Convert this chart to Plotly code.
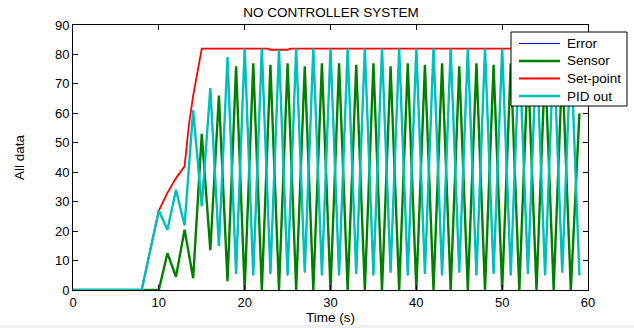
import plotly.graph_objects as go

# ---- data (1 s samples) ----
time_s = list(range(0, 60))

sensor = [0, 0, 0, 0, 0, 0, 0, 0, 0, 0,
          0, 12.5, 4.5, 20.5, 4, 53, 13.5, 66, 3, 76,
          0, 77, 0, 76.5, 0, 77, 0, 76, 0, 77,
          0, 77, 0, 76.5, 0, 77, 0, 76, 0, 77,
          0, 76.5, 0, 77, 0, 76, 0, 77, 0, 76.5,
          0, 77, 0, 76.5, 0, 77, 0, 76, 0, 60]

pid_out = [0, 0, 0, 0, 0, 0, 0, 0, 0, 13.5,
           27, 20.5, 34, 22, 61, 28.5, 68.5, 15, 79, 5.5,
           82, 5, 82, 5.5, 81.6, 5, 82, 6, 82, 5,
           82, 5, 82, 5.5, 82, 5, 82, 6, 82, 5,
           82, 5.5, 82, 5, 82, 6, 82, 5, 82, 5.5,
           82, 5, 82, 5.5, 82, 5, 82, 6, 82, 5]

error = list(pid_out)

setpoint_t = [0, 8, 9, 10, 11, 12, 13, 13.5, 14, 14.5, 15, 22.7, 23, 25, 25.3, 59]
setpoint = [0, 0, 13.5, 27, 33, 38, 42, 56, 66, 74, 82, 82, 81.6, 81.6, 82, 82]

x_ticks = [0, 10, 20, 30, 40, 50, 60]
y_ticks = [0, 10, 20, 30, 40, 50, 60, 70, 80, 90]

series_names = ["Error", "Sensor", "Set-point", "PID out"]
series_colors = ["#0000FF", "#008000", "#FF0000", "#00BFBF"]
series_widths = [1, 2.4, 1.8, 2.4]

FONT = "Liberation Sans, Arial, sans-serif"

# plot-area geometry (pixels)
L, R, T, B = 73, 46, 25, 38
W, H = 634, 328
PW, PH = W - L - R, H - T - B


def px_x(px):
    return (px - L) / PW


def px_y(py):
    return (H - B - py) / PH


fig = go.Figure()
xs = [time_s, time_s, setpoint_t, time_s]
ys = [error, sensor, setpoint, pid_out]
for name, col, wd, xv, yv in zip(series_names, series_colors, series_widths, xs, ys):
    fig.add_trace(go.Scatter(x=xv, y=yv, mode="lines", name=name,
                             line=dict(color=col, width=wd)))

axis_common = dict(showgrid=False, zeroline=False, showline=True, linecolor="black",
                   linewidth=1, mirror="ticks", ticks="inside", ticklen=5,
                   tickcolor="black", automargin=False,
                   tickfont=dict(family=FONT, size=13, color="black"))

# manual legend (box, line samples, labels)
shapes = [dict(type="rect", xref="paper", yref="paper", x0=-0.2, x1=1.2,
               y0=px_y(325), y1=px_y(330), fillcolor="#F0F0F0", line=dict(width=0),
               layer="below"),
          dict(type="rect", xref="paper", yref="paper",
               x0=px_x(511), x1=px_x(627), y0=px_y(106), y1=px_y(32),
               fillcolor="white", line=dict(color="black", width=1), layer="above")]
annotations = []
row_y = [43.5, 61, 78.5, 96]
for name, col, wd, ry in zip(series_names, series_colors, series_widths, row_y):
    shapes.append(dict(type="line", xref="paper", yref="paper",
                       x0=px_x(519), x1=px_x(560), y0=px_y(ry), y1=px_y(ry),
                       line=dict(color=col, width=wd), layer="above"))
    annotations.append(dict(text=name, xref="paper", yref="paper",
                            x=px_x(565), y=px_y(ry), xanchor="left", yanchor="middle",
                            showarrow=False,
                            font=dict(family=FONT, size=13.5, color="black")))

fig.update_layout(
    width=W, height=H,
    margin=dict(l=L, r=R, t=T, b=B),
    paper_bgcolor="white", plot_bgcolor="white",
    title=dict(text="NO CONTROLLER SYSTEM", x=0.522, xanchor="center", y=0.962, yanchor="middle",
               font=dict(family=FONT, size=13.5, color="black")),
    xaxis=dict(range=[0, 60], tickvals=x_ticks,
               title=dict(text="Time (s)", standoff=3, font=dict(family=FONT, size=13.5, color="black")),
               **axis_common),
    yaxis=dict(range=[0, 90], tickvals=y_ticks,
               title=dict(text="All data", standoff=27, font=dict(family=FONT, size=13.5, color="black")),
               **axis_common),
    showlegend=False,
    shapes=shapes,
    annotations=annotations,
)

fig.write_html("out.html")
